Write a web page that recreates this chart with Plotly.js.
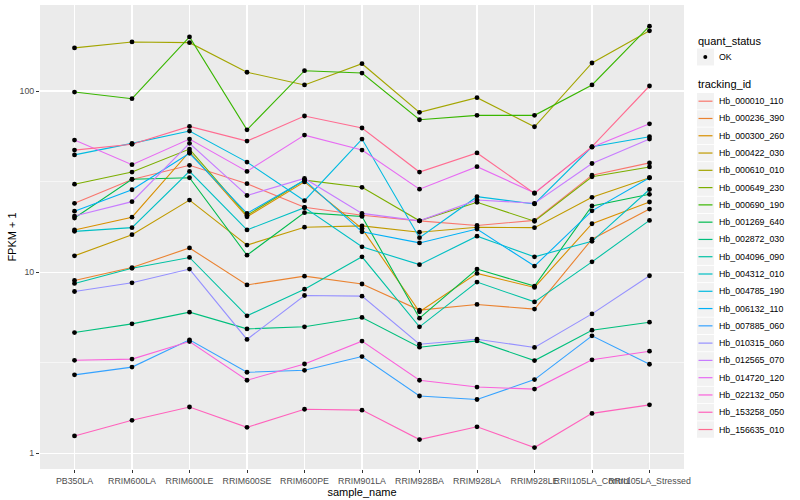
<!DOCTYPE html>
<html>
<head>
<meta charset="utf-8">
<script src="https://cdn.plot.ly/plotly-3.0.1.min.js"></script>
<style>
  html, body { margin: 0; padding: 0; background: #ffffff; }
  #chart { width: 800px; height: 500px; }
</style>
</head>
<body>
<div id="chart"></div>
<script>
// ---- data ----
const samples = ["PB350LA", "RRIM600LA", "RRIM600LE", "RRIM600SE", "RRIM600PE", "RRIM901LA",
                 "RRIM928BA", "RRIM928LA", "RRIM928LE", "RRII105LA_Control", "RRII105LA_Stressed"];

const trackingIds = ["Hb_000010_110", "Hb_000236_390", "Hb_000300_260", "Hb_000422_030", "Hb_000610_010",
                     "Hb_000649_230", "Hb_000690_190", "Hb_001269_640", "Hb_002872_030", "Hb_004096_090",
                     "Hb_004312_010", "Hb_004785_190", "Hb_006132_110", "Hb_007885_060", "Hb_010315_060",
                     "Hb_012565_070", "Hb_014720_120", "Hb_022132_050", "Hb_153258_050", "Hb_156635_010"];

const hb_000010_110 = [24.0, 32.5, 38.9, 30.8, 22.8, 20.6, 19.2, 18.1, 19.3, 34.3, 40.1];
const hb_000236_390 = [9.0, 10.6, 13.6, 8.5, 9.5, 8.6, 6.17, 6.63, 6.25, 15.2, 22.3];
const hb_000300_260 = [17.1, 20.1, 46.2, 20.2, 31.5, 17.4, 6.04, 9.84, 8.23, 18.5, 24.4];
const hb_000422_030 = [12.3, 16.1, 25.0, 14.1, 17.7, 18.0, 16.6, 17.7, 17.6, 25.9, 33.2];
const hb_000610_010 = [173, 186.6, 185, 127, 108, 141.5, 76.3, 91.9, 63.5, 142.8, 215];
const hb_000649_230 = [30.6, 35.7, 47.8, 20.6, 32.2, 29.4, 19.2, 24.3, 19.1, 33.6, 38.1];
const hb_000690_190 = [98.7, 90.7, 199, 61.1, 129.5, 125.7, 69.4, 73.4, 73.4, 108, 228];
const hb_001269_640 = [19.9, 32.6, 33.2, 12.4, 21.3, 20.3, 5.57, 10.4, 8.37, 23.2, 26.9];
const hb_002872_030 = [4.64, 5.18, 6.01, 4.86, 4.99, 5.62, 3.85, 4.17, 3.25, 4.78, 5.29];
const hb_004096_090 = [8.66, 10.5, 12.05, 5.74, 8.05, 12.15, 4.99, 8.81, 6.85, 11.4, 19.3];
const hb_004312_010 = [16.8, 17.6, 36.0, 17.1, 22.7, 13.8, 11.0, 15.8, 12.15, 14.8, 28.6];
const hb_004785_190 = [44.4, 51.4, 60.1, 40.5, 24.8, 54.3, 15.5, 26.1, 23.8, 49.2, 55.9];
const hb_006132_110 = [21.7, 28.5, 45.3, 21.1, 32.2, 16.7, 14.5, 17.3, 10.8, 21.8, 33.2];
const hb_007885_060 = [2.71, 2.99, 4.23, 2.80, 2.87, 3.42, 2.07, 1.98, 2.55, 4.45, 3.10];
const hb_010315_060 = [7.82, 8.73, 10.4, 4.25, 7.43, 7.37, 4.0, 4.26, 3.84, 5.88, 9.55];
const hb_012565_070 = [20.4, 24.5, 51.4, 26.5, 32.9, 21.1, 19.2, 25.0, 24.0, 39.8, 54.3];
const hb_014720_120 = [53.6, 39.2, 54.3, 36.0, 57.1, 47.2, 28.7, 38.2, 27.4, 49.0, 65.9];
const hb_022132_050 = [3.26, 3.31, 4.14, 2.53, 3.11, 4.16, 2.53, 2.32, 2.26, 3.28, 3.66];
const hb_153258_050 = [1.246, 1.52, 1.80, 1.39, 1.75, 1.73, 1.19, 1.40, 1.075, 1.66, 1.85];
const hb_156635_010 = [47.2, 50.8, 63.8, 52.9, 72.8, 62.5, 35.7, 45.5, 27.2, 49.3, 106.6];

const yTickVals = [1, 10, 100];
const yTickText = ["1", "10", "100"];

// ---- styles ----
const seriesValues = [hb_000010_110, hb_000236_390, hb_000300_260, hb_000422_030, hb_000610_010,
  hb_000649_230, hb_000690_190, hb_001269_640, hb_002872_030, hb_004096_090, hb_004312_010,
  hb_004785_190, hb_006132_110, hb_007885_060, hb_010315_060, hb_012565_070, hb_014720_120,
  hb_022132_050, hb_153258_050, hb_156635_010];

const palette = ["#F8766D", "#EA8331", "#D89000", "#C09B00", "#A3A500", "#7CAE00", "#39B600",
  "#00BB4E", "#00BF7D", "#00C1A3", "#00BFC4", "#00BAE0", "#00B0F6", "#35A2FF", "#9590FF",
  "#C77CFF", "#E76BF3", "#FA62DB", "#FF62BC", "#FF6C91"];

const FONT = "Liberation Sans, Arial, Helvetica, sans-serif";

const traces = [];
trackingIds.forEach((id, i) => {
  traces.push({
    type: "scatter", mode: "lines", name: id,
    x: samples, y: seriesValues[i],
    line: { color: palette[i], width: 1.1 },
    showlegend: false, hoverinfo: "x+y+name"
  });
});
// points layer (quant_status = OK)
const ptX = [], ptY = [];
seriesValues.forEach(vals => vals.forEach((v, j) => { ptX.push(samples[j]); ptY.push(v); }));
traces.push({
  type: "scatter", mode: "markers", name: "OK", x: ptX, y: ptY,
  marker: { color: "#000000", size: 4.8 }, showlegend: false
});

// ---- layout ----
const M = { l: 40, r: 116, t: 5, b: 31 };
const PW = 800 - M.l - M.r, PH = 500 - M.t - M.b;
const px2x = p => (p - M.l) / PW;
const py2y = p => (M.t + PH - p) / PH;

const shapes = [];
const annotations = [];

// legend: quant_status
annotations.push({ xref: "paper", yref: "paper", x: px2x(696), y: py2y(41), xanchor: "left", yanchor: "middle",
  text: "quant_status", showarrow: false, font: { family: FONT, size: 11, color: "#000" } });
shapes.push({ type: "rect", xref: "paper", yref: "paper", x0: px2x(697), x1: px2x(714),
  y0: py2y(48.5), y1: py2y(65.5), fillcolor: "#F2F2F2", line: { width: 0 }, layer: "above" });
shapes.push({ type: "circle", xref: "paper", yref: "paper", x0: px2x(703.3), x1: px2x(707.3),
  y0: py2y(55), y1: py2y(59), fillcolor: "#000", line: { width: 0 }, layer: "above" });
annotations.push({ xref: "paper", yref: "paper", x: px2x(716.5), y: py2y(57), xanchor: "left", yanchor: "middle",
  text: "OK", showarrow: false, font: { family: FONT, size: 8.8, color: "#000" } });

// legend: tracking_id
annotations.push({ xref: "paper", yref: "paper", x: px2x(696), y: py2y(83.5), xanchor: "left", yanchor: "middle",
  text: "tracking_id", showarrow: false, font: { family: FONT, size: 11, color: "#000" } });
const legTop = 101.2, legStep = 17.28;
trackingIds.forEach((id, i) => {
  const cy = legTop + i * legStep;
  shapes.push({ type: "rect", xref: "paper", yref: "paper", x0: px2x(697), x1: px2x(714),
    y0: py2y(cy - 8.2), y1: py2y(cy + 8.2), fillcolor: "#F2F2F2", line: { width: 0 }, layer: "above" });
  shapes.push({ type: "line", xref: "paper", yref: "paper", x0: px2x(698.5), x1: px2x(712.5),
    y0: py2y(cy), y1: py2y(cy), line: { color: palette[i], width: 1.2 }, layer: "above" });
  annotations.push({ xref: "paper", yref: "paper", x: px2x(716.5), y: py2y(cy), xanchor: "left", yanchor: "middle",
    text: id, showarrow: false, font: { family: FONT, size: 8.8, color: "#000" } });
});

const layout = {
  width: 800, height: 500,
  margin: M,
  paper_bgcolor: "#FFFFFF",
  plot_bgcolor: "#EBEBEB",
  font: { family: FONT, color: "#000" },
  showlegend: false,
  xaxis: {
    type: "category", range: [-0.6, 10.6], autorange: false,
    showgrid: true, gridcolor: "#FFFFFF", gridwidth: 1.1,
    zeroline: false, showline: false,
    ticks: "outside", ticklen: 3, tickwidth: 1, tickcolor: "#333333",
    tickangle: 0, tickfont: { family: FONT, size: 8.8, color: "#4D4D4D" },
    title: { text: "sample_name", font: { family: FONT, size: 11, color: "#000" }, standoff: 3 }
  },
  yaxis: {
    type: "log", range: [-0.087, 2.475], autorange: false,
    tickvals: yTickVals, ticktext: yTickText,
    showgrid: true, gridcolor: "#FFFFFF", gridwidth: 1.1,
    zeroline: false, showline: false,
    ticks: "outside", ticklen: 3, tickwidth: 1, tickcolor: "#333333",
    tickfont: { family: FONT, size: 8.8, color: "#4D4D4D" },
    minor: { tickvals: [Math.sqrt(10), Math.sqrt(1000)], showgrid: true, gridcolor: "#FFFFFF", gridwidth: 0.55, ticks: "" },
    title: { text: "FPKM + 1", font: { family: FONT, size: 11, color: "#000" }, standoff: 0 }
  },
  shapes: shapes,
  annotations: annotations
};

Plotly.newPlot("chart", traces, layout, { displayModeBar: false, staticPlot: true });
</script>
</body>
</html>
